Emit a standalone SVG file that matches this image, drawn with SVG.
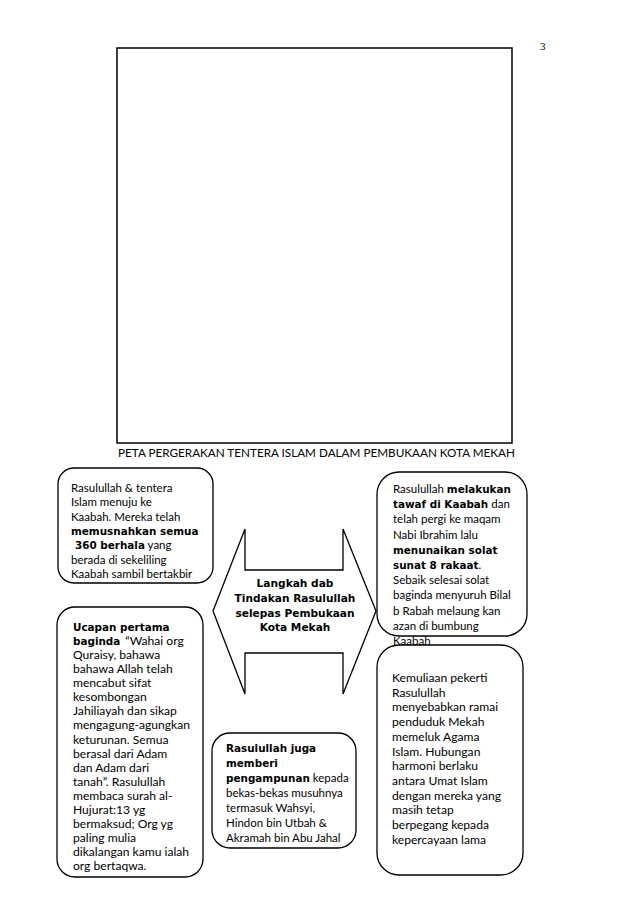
<svg xmlns="http://www.w3.org/2000/svg" width="638" height="903" viewBox="0 0 638 903">
<style>
.box{fill:#fff;stroke:#000;stroke-width:1.3}
.t{font-family:Lato,"Open Sans","Liberation Sans",sans-serif;font-size:11.5px;fill:#000}
.l{font-size:12.1px}
.b{font-family:"DejaVu Sans","Liberation Sans",sans-serif;font-weight:bold;font-size:10.4px}
.h{font-family:"DejaVu Sans","Liberation Sans",sans-serif;font-weight:bold;font-size:10.6px;text-anchor:middle;fill:#000}
</style>
<rect width="638" height="903" fill="#fff"/>
<text x="540" y="50" font-family="'Liberation Serif',serif" font-size="11" fill="#000">3</text>
<g id="map">
<rect x="117" y="48" width="395" height="395" fill="#fff" stroke="#000" stroke-width="1.5"/>
<text class="t" x="118" y="457" font-size="11" textLength="397" lengthAdjust="spacingAndGlyphs">PETA PERGERAKAN TENTERA ISLAM DALAM PEMBUKAAN KOTA MEKAH</text>
</g>
<g id="center">
<path class="box" d="M213,611 L245,529 L245,570 L343,570 L343,529 L376,611 L343,694 L343,653 L245,653 L245,694 Z"/>
<text class="h" x="295" y="587">Langkah dab</text>
<text class="h" x="295" y="602">Tindakan Rasulullah</text>
<text class="h" x="295" y="617">selepas Pembukaan</text>
<text class="h" x="295" y="631">Kota Mekah</text>
</g>
<g id="box1">
<rect class="box" x="58" y="468" width="155" height="115" rx="16"/>
<text class="t" x="71" y="492">Rasulullah &amp; tentera</text>
<text class="t" x="71" y="506.3">Islam menuju ke</text>
<text class="t" x="71" y="520.6">Kaabah. Mereka telah</text>
<text class="t" x="71" y="535"><tspan class="b">memusnahkan semua</tspan></text>
<text class="t" x="75" y="549.3"><tspan class="b">360 berhala</tspan> yang</text>
<text class="t" x="71" y="563.6">berada di sekeliling</text>
<text class="t" x="71" y="578">Kaabah sambil bertakbir</text>
</g>
<g id="box2">
<rect class="box" x="377" y="472" width="150" height="164" rx="22"/>
<text class="t" x="393" y="493">Rasulullah <tspan class="b">melakukan</tspan></text>
<text class="t" x="393" y="508.2"><tspan class="b">tawaf di Kaabah</tspan> dan</text>
<text class="t" x="393" y="523.4">telah pergi ke maqam</text>
<text class="t" x="393" y="538.6">Nabi Ibrahim lalu</text>
<text class="t" x="393" y="553.8"><tspan class="b">menunaikan solat</tspan></text>
<text class="t" x="393" y="569"><tspan class="b">sunat 8 rakaat</tspan>.</text>
<text class="t" x="393" y="584.2">Sebaik selesai solat</text>
<text class="t" x="393" y="599.4">baginda menyuruh Bilal</text>
<text class="t" x="393" y="614.6">b Rabah melaung kan</text>
<text class="t" x="393" y="629.8">azan di bumbung</text>
<text class="t" x="393" y="645">Kaabah</text>
</g>
<g id="box3">
<rect class="box" x="57" y="607" width="146" height="270" rx="18"/>
<text class="t l" x="73" y="631"><tspan class="b">Ucapan pertama</tspan></text>
<text class="t l" x="73" y="645"><tspan class="b">baginda</tspan><tspan dx="5">“Wahai org</tspan></text>
<text class="t l" x="73" y="659.1">Quraisy, bahawa</text>
<text class="t l" x="73" y="673.2">bahawa Allah telah</text>
<text class="t l" x="73" y="687.2">mencabut sifat</text>
<text class="t l" x="73" y="701.3">kesombongan</text>
<text class="t l" x="73" y="715.4">Jahiliayah dan sikap</text>
<text class="t l" x="73" y="729.4">mengagung-agungkan</text>
<text class="t l" x="73" y="743.5">keturunan. Semua</text>
<text class="t l" x="73" y="757.5">berasal dari Adam</text>
<text class="t l" x="73" y="771.6">dan Adam dari</text>
<text class="t l" x="73" y="785.7">tanah”. Rasulullah</text>
<text class="t l" x="73" y="799.7">membaca surah al-</text>
<text class="t l" x="73" y="813.8">Hujurat:13 yg</text>
<text class="t l" x="73" y="827.8">bermaksud; Org yg</text>
<text class="t l" x="73" y="841.9">paling mulia</text>
<text class="t l" x="73" y="856">dikalangan kamu ialah</text>
<text class="t l" x="73" y="870">org bertaqwa.</text>
</g>
<g id="box4">
<rect class="box" x="212" y="733" width="144" height="115" rx="18"/>
<text class="t" x="226" y="752"><tspan class="b">Rasulullah juga</tspan></text>
<text class="t" x="226" y="767"><tspan class="b">memberi</tspan></text>
<text class="t" x="226" y="782"><tspan class="b">pengampunan</tspan> kepada</text>
<text class="t" x="226" y="797">bekas-bekas musuhnya</text>
<text class="t" x="226" y="812">termasuk Wahsyi,</text>
<text class="t" x="226" y="827">Hindon bin Utbah &amp;</text>
<text class="t" x="226" y="842">Akramah bin Abu Jahal</text>
</g>
<g id="box5">
<rect class="box" x="377" y="645" width="146" height="230" rx="22"/>
<text class="t l" x="392" y="682">Kemuliaan pekerti</text>
<text class="t l" x="392" y="696.7">Rasulullah</text>
<text class="t l" x="392" y="711.4">menyebabkan ramai</text>
<text class="t l" x="392" y="726.1">penduduk Mekah</text>
<text class="t l" x="392" y="740.8">memeluk Agama</text>
<text class="t l" x="392" y="755.5">Islam. Hubungan</text>
<text class="t l" x="392" y="770.2">harmoni berlaku</text>
<text class="t l" x="392" y="784.9">antara Umat Islam</text>
<text class="t l" x="392" y="799.6">dengan mereka yang</text>
<text class="t l" x="392" y="814.3">masih tetap</text>
<text class="t l" x="392" y="829">berpegang kepada</text>
<text class="t l" x="392" y="843.7">kepercayaan lama</text>
</g>
</svg>
